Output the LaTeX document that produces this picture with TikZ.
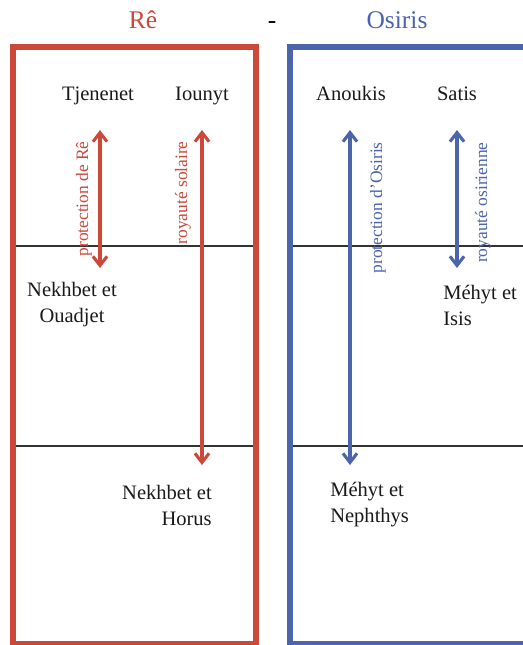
\documentclass[tikz,border=0pt]{standalone}
\usepackage{fontspec}
\setmainfont{Liberation Serif}
\usetikzlibrary{arrows.meta}
\definecolor{rered}{RGB}{204,72,58}
\definecolor{osblue}{RGB}{74,101,172}
\tikzset{
  title/.style={font=\fontsize{18.1}{20}\selectfont,anchor=base,inner sep=0pt},
  god/.style={font=\fontsize{14.6}{18.5}\selectfont,text=black!90,inner sep=0pt},
  role/.style={font=\fontsize{12.4}{14}\selectfont,rotate=90,anchor=base east,inner sep=0pt},
  link/.style={line width=2.2pt,{Straight Barb[length=6.5pt,width=10pt]}-{Straight Barb[length=6.5pt,width=10pt]}},
  frame/.style={line width=4.6pt},
  row/.style={black!80,line width=1.4pt}
}

\begin{document}
\begin{tikzpicture}[x=0.025cm,y=-0.025cm]
\useasboundingbox (0,0) rectangle (523,645);

% titles
\node[title,text=rered] (re) at (143,28) {Rê};
\node[title] (dash) at (272,28) {-};
\node[title,text=osblue] (osiris) at (397,28) {Osiris};

% frames and rows
\draw[frame,rered] (13,47) rectangle (256,644);
\draw[frame,osblue] (290,47) rectangle (570,644);
\draw[row] (16,246) -- (253,246);
\draw[row] (16,446) -- (253,446);
\draw[row] (293,246) -- (523,246);
\draw[row] (293,446) -- (523,446);

% gods
\node[god,anchor=base] (tjenenet) at (98,100) {Tjenenet};
\node[god,anchor=base] (iounyt) at (202,100) {Iounyt};
\node[god,anchor=base] (anoukis) at (351,100) {Anoukis};
\node[god,anchor=base] (satis) at (457,100) {Satis};
\node[god,align=center] (ouadjet) at (72,305) {Nekhbet et\\Ouadjet};
\node[god,align=right,anchor=east] (horus) at (212,505) {Nekhbet et\\Horus};
\node[god,align=left,anchor=west] (isis) at (443,305) {Méhyt et\\Isis};
\node[god,align=left,anchor=west] (nephthys) at (330,505) {Méhyt et\\Nephthys};

% links
\coordinate (pr-a) at (100,130);
\coordinate (pr-b) at (100,268);
\coordinate (rs-a) at (202,130);
\coordinate (rs-b) at (202,465);
\coordinate (po-a) at (350,130);
\coordinate (po-b) at (350,465);
\coordinate (ro-a) at (457,130);
\coordinate (ro-b) at (457,268);
\draw[link,rered] (pr-a) -- (pr-b);
\draw[link,rered] (rs-a) -- (rs-b);
\draw[link,osblue] (po-a) -- (po-b);
\draw[link,osblue] (ro-a) -- (ro-b);
\node[role,text=rered] (pr) at (88,141) {protection de Rê};
\node[role,text=rered] (rs) at (187,141) {royauté solaire};
\node[role,text=osblue] (po) at (382,142) {protection d’Osiris};
\node[role,text=osblue] (ro) at (487,142) {royauté osirienne};

\end{tikzpicture}
\end{document}
